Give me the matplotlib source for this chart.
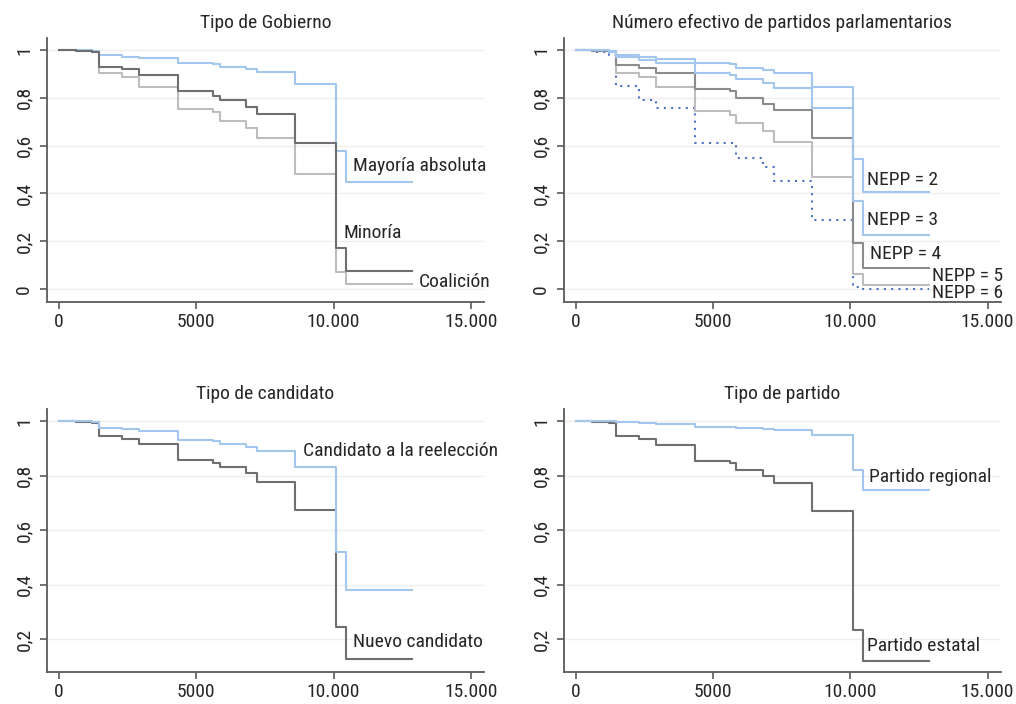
import matplotlib
matplotlib.use('Agg')
import matplotlib.pyplot as plt
from matplotlib import font_manager

# tiempos de los escalones (comunes a todas las curvas)
tiempos = [0, 600, 1200, 1450, 2300, 2900, 4350, 5600, 5850, 6800, 7200, 8600, 10100, 10450, 12850]

# Tipo de Gobierno
mayoria = [1, 1, 0.997, 0.979, 0.972, 0.966, 0.944, 0.94, 0.930, 0.919, 0.909, 0.859, 0.578, 0.447, 0.447]
minoria = [1, 0.995, 0.99, 0.930, 0.92, 0.894, 0.827, 0.807, 0.79, 0.763, 0.732, 0.612, 0.172, 0.074, 0.074]
coalicion = [1, 0.995, 0.99, 0.905, 0.885, 0.846, 0.753, 0.74, 0.701, 0.672, 0.63, 0.48, 0.07, 0.02, 0.02]

# Número efectivo de partidos parlamentarios
nepp2 = [1, 1, 0.997, 0.979, 0.97, 0.963, 0.947, 0.94, 0.923, 0.915, 0.902, 0.844, 0.545, 0.405, 0.405]
nepp3 = [1, 0.998, 0.993, 0.969, 0.96, 0.947, 0.902, 0.895, 0.877, 0.86, 0.839, 0.756, 0.367, 0.228, 0.228]
nepp4 = [1, 0.995, 0.99, 0.937, 0.925, 0.902, 0.837, 0.83, 0.80, 0.774, 0.749, 0.633, 0.193, 0.088, 0.088]
nepp5 = [1, 0.995, 0.99, 0.905, 0.885, 0.844, 0.744, 0.73, 0.693, 0.662, 0.616, 0.469, 0.064, 0.017, 0.017]
nepp6 = [1, 0.99, 0.98, 0.85, 0.79, 0.756, 0.613, 0.61, 0.549, 0.51, 0.451, 0.288, 0.008, 0.0, 0.0]

# Tipo de candidato
reeleccion = [1, 1, 0.997, 0.976, 0.97, 0.962, 0.931, 0.925, 0.915, 0.904, 0.891, 0.833, 0.518, 0.378, 0.378]
nuevo = [1, 0.996, 0.993, 0.946, 0.935, 0.915, 0.858, 0.845, 0.83, 0.81, 0.778, 0.674, 0.243, 0.125, 0.125]

# Tipo de partido
regional = [1, 1, 0.999, 0.995, 0.993, 0.99, 0.979, 0.977, 0.975, 0.972, 0.967, 0.947, 0.819, 0.748, 0.748]
estatal = [1, 0.996, 0.993, 0.945, 0.935, 0.913, 0.853, 0.845, 0.822, 0.8, 0.774, 0.668, 0.232, 0.118, 0.118]

xticks = [0, 5000, 10000, 15000]
xlabels = ['0', '5000', '10.000', '15.000']

AZUL = '#a3c6ec'
OSCURO = '#6f6f72'
MEDIO = '#8c8c8e'
CLARO = '#bdbdbd'
PUNTOS = '#4d72c4'
TEXTO = '#262626'

# buscar una fuente estrecha si existe
nombres = {f.name for f in font_manager.fontManager.ttflist}
fuente = 'DejaVu Sans'
for cand in ['Roboto Condensed', 'Liberation Sans Narrow', 'DejaVu Sans Condensed', 'Open Sans Condensed']:
    if cand in nombres:
        fuente = cand
        break
plt.rcParams['font.family'] = [fuente, 'DejaVu Sans']
plt.rcParams['font.size'] = 14

fig = plt.figure(figsize=(10.16, 7.04), dpi=100)

posiciones = [
    [0.0463, 0.571, 0.430, 0.375],
    [0.555, 0.571, 0.430, 0.375],
    [0.0463, 0.0455, 0.430, 0.3735],
    [0.555, 0.0455, 0.430, 0.3735],
]


def preparar(ax, titulo, yticks, ylim):
    ax.set_title(titulo, color=TEXTO, fontsize=14, pad=7)
    ax.set_xlim(-440, 15480)
    ax.set_ylim(*ylim)
    ax.set_xticks(xticks)
    ax.set_xticklabels(xlabels)
    ax.set_yticks(yticks)
    ax.set_yticklabels([('%g' % v).replace('.', ',') for v in yticks],
                       rotation=90, va='center')
    for s in ['top', 'right']:
        ax.spines[s].set_visible(False)
    for s in ['left', 'bottom']:
        ax.spines[s].set_color('#5a5a5a')
        ax.spines[s].set_linewidth(1.3)
    ax.tick_params(direction='out', length=5, width=1.2, color='#5a5a5a',
                   labelcolor=TEXTO, labelsize=14)
    ax.tick_params(axis='y', pad=5)
    ax.tick_params(axis='x', pad=3)
    for v in yticks:
        ax.axhline(v, color='#efefef', lw=1.0, zorder=0)


def curva(ax, valores, color, ls='-'):
    ax.step(tiempos, valores, where='post', color=color, lw=1.5, ls=ls)


# panel 1
ax1 = fig.add_axes(posiciones[0])
preparar(ax1, 'Tipo de Gobierno', [0, 0.2, 0.4, 0.6, 0.8, 1], (-0.054, 1.05))
curva(ax1, coalicion, CLARO)
curva(ax1, mayoria, AZUL)
curva(ax1, minoria, OSCURO)
ax1.text(10700, 0.515, 'Mayoría absoluta', color=TEXTO, va='center')
ax1.text(10350, 0.235, 'Minoría', color=TEXTO, va='center')
ax1.text(13100, 0.03, 'Coalición', color=TEXTO, va='center', clip_on=False)

# panel 2
ax2 = fig.add_axes(posiciones[1])
preparar(ax2, 'Número efectivo de partidos parlamentarios', [0, 0.2, 0.4, 0.6, 0.8, 1], (-0.054, 1.05))
curva(ax2, nepp6, PUNTOS, ls=(0, (1, 2.5)))
curva(ax2, nepp5, CLARO)
curva(ax2, nepp4, MEDIO)
curva(ax2, nepp3, AZUL)
curva(ax2, nepp2, AZUL)
ax2.text(10620, 0.456, 'NEPP = 2', color=TEXTO, va='center')
ax2.text(10620, 0.289, 'NEPP = 3', color=TEXTO, va='center')
ax2.text(10730, 0.146, 'NEPP = 4', color=TEXTO, va='center')
ax2.text(12980, 0.054, 'NEPP = 5', color=TEXTO, va='center', clip_on=False)
ax2.text(12980, -0.017, 'NEPP = 6', color=TEXTO, va='center', clip_on=False)

# panel 3
ax3 = fig.add_axes(posiciones[2])
preparar(ax3, 'Tipo de candidato', [0.2, 0.4, 0.6, 0.8, 1], (0.079, 1.044))
curva(ax3, nuevo, OSCURO)
curva(ax3, reeleccion, AZUL)
ax3.text(8890, 0.89, 'Candidato a la reelección', color=TEXTO, va='center', clip_on=False)
ax3.text(10700, 0.19, 'Nuevo candidato', color=TEXTO, va='center')

# panel 4
ax4 = fig.add_axes(posiciones[3])
preparar(ax4, 'Tipo de partido', [0.2, 0.4, 0.6, 0.8, 1], (0.079, 1.044))
curva(ax4, estatal, OSCURO)
curva(ax4, regional, AZUL)
ax4.text(10690, 0.795, 'Partido regional', color=TEXTO, va='center')
ax4.text(10620, 0.175, 'Partido estatal', color=TEXTO, va='center')

fig.savefig('out.png', dpi=100)
plt.close(fig)
